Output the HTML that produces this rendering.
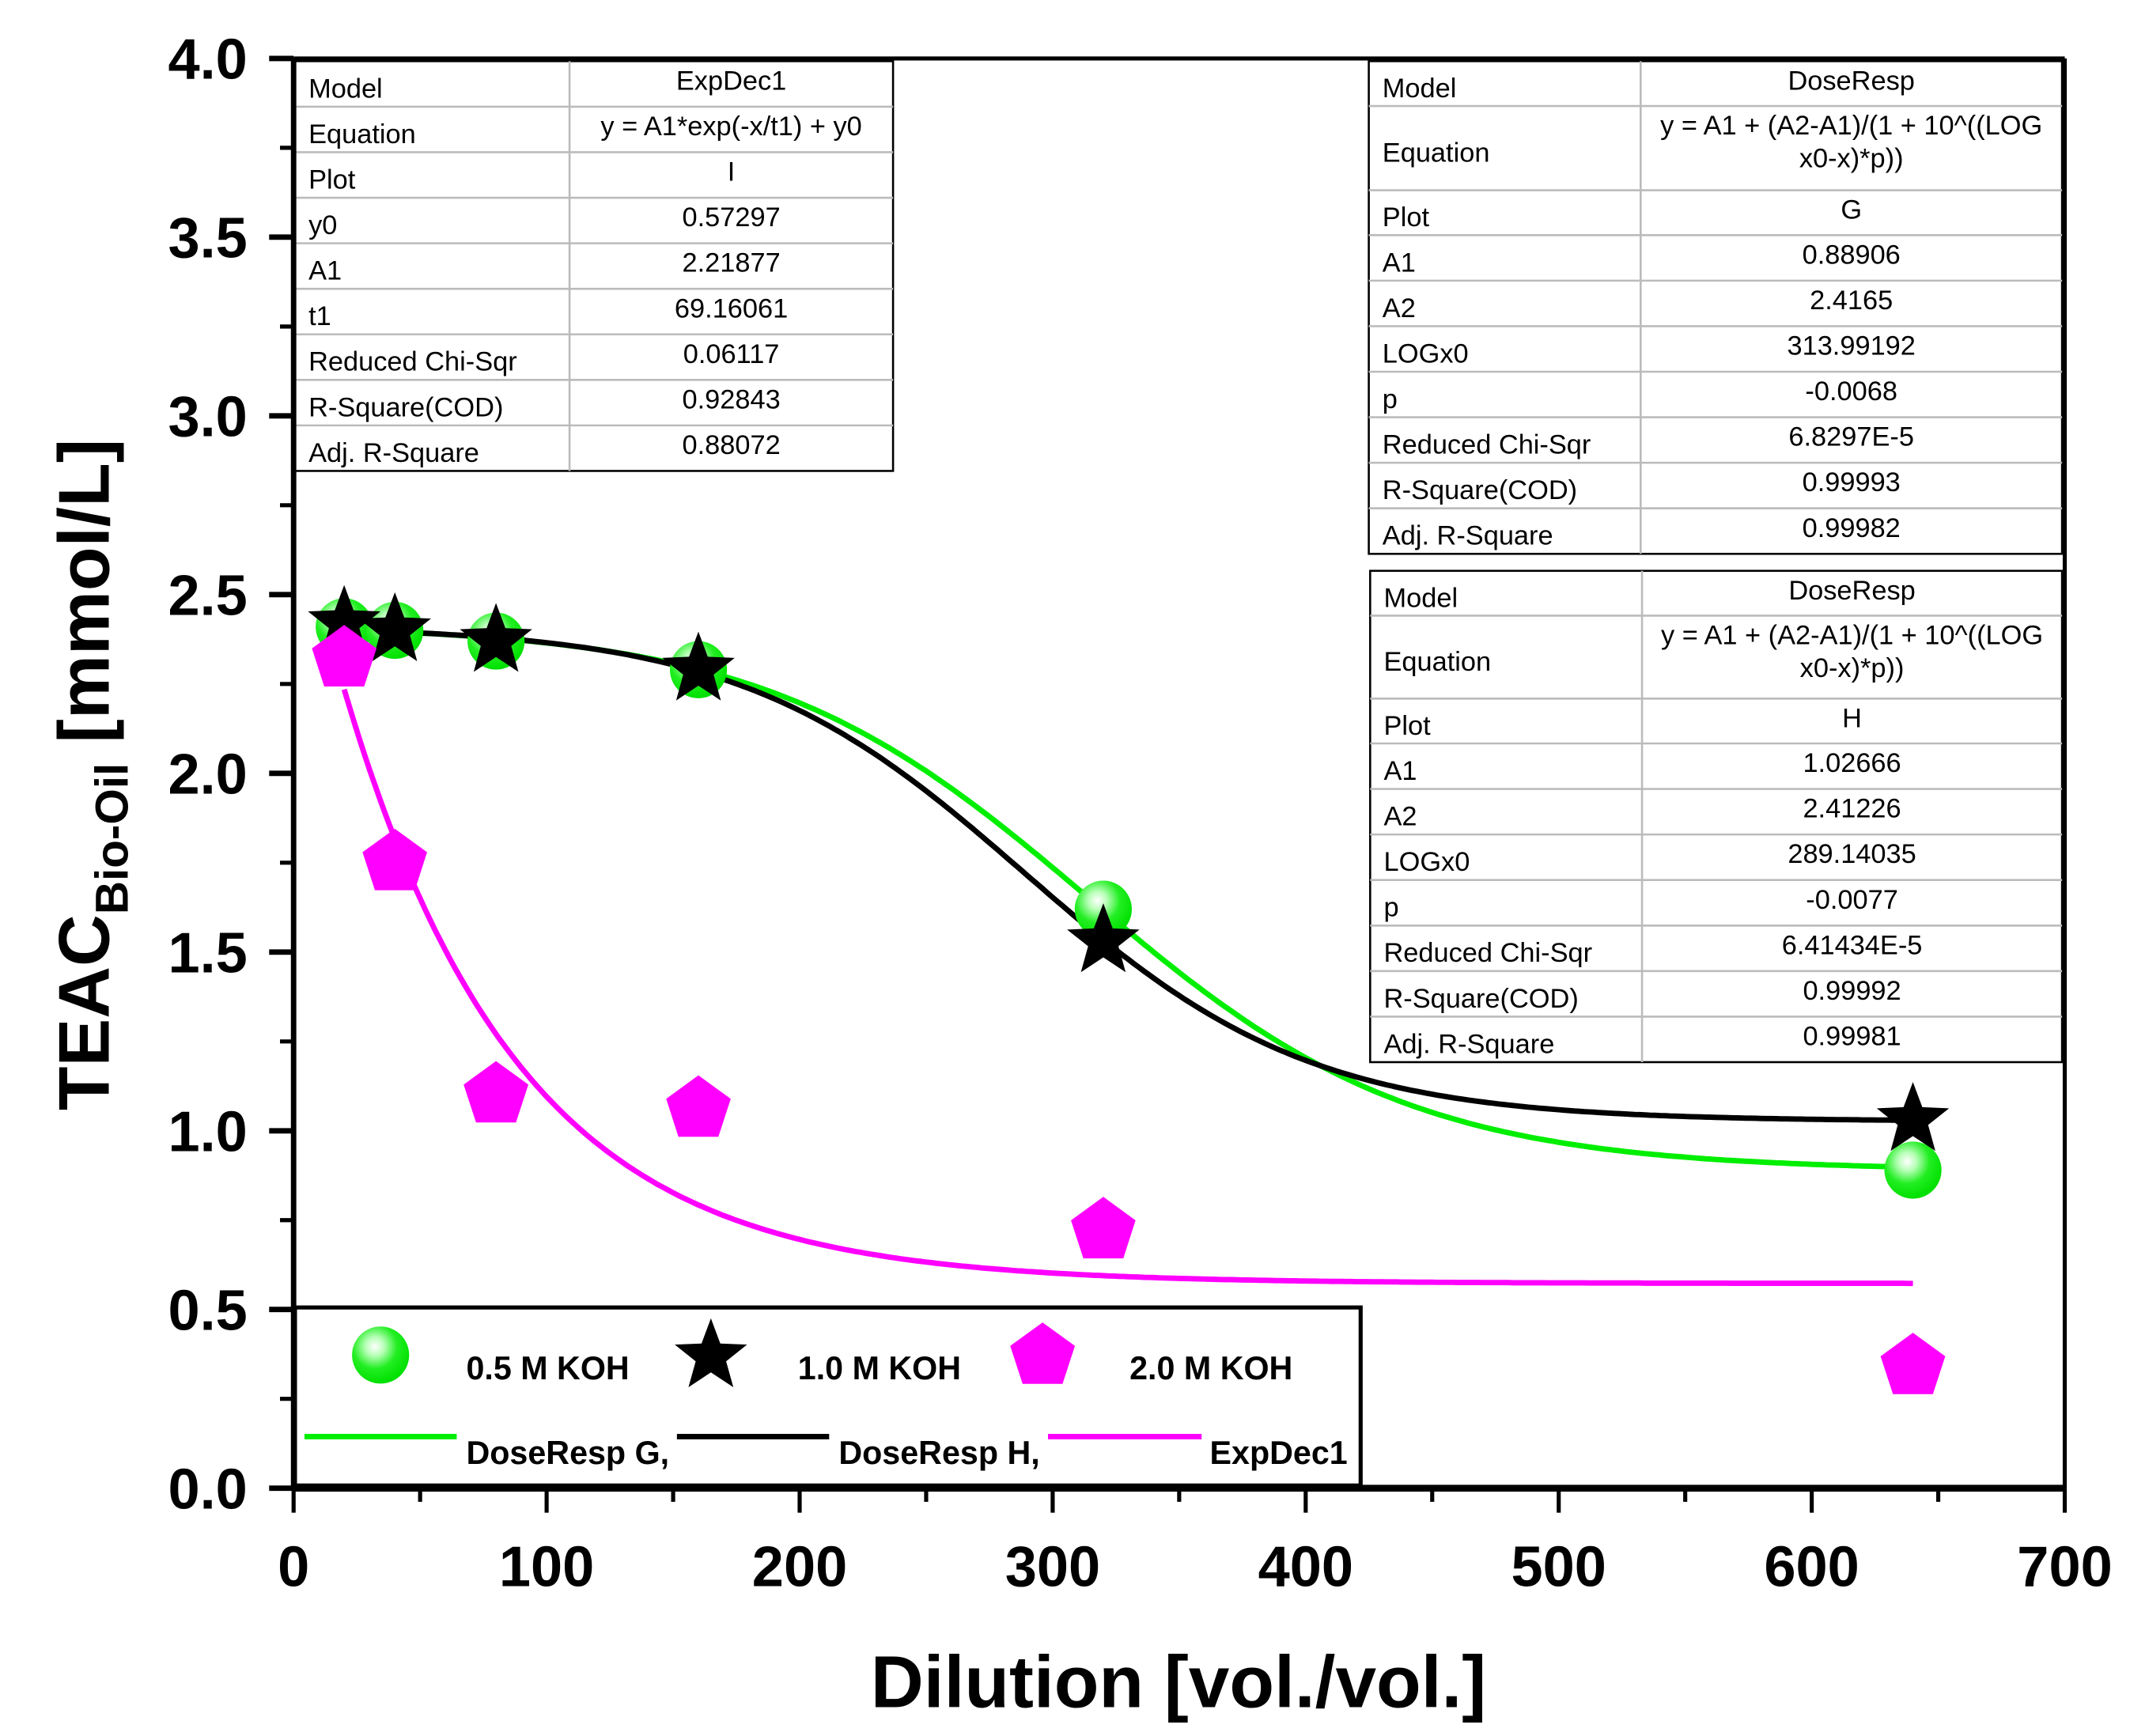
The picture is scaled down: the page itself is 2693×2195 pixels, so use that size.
<!DOCTYPE html>
<html><head><meta charset="utf-8"><style>
html,body{margin:0;padding:0;background:#fff}
svg{display:block}
text{font-family:"Liberation Sans",Arial,sans-serif}
.tk{font-weight:bold;font-size:42px}
.tt{font-size:20px}
</style></head><body>
<svg id="chart" width="2693" height="2195" viewBox="0 0 1567 1277.3" preserveAspectRatio="none" xmlns="http://www.w3.org/2000/svg">
<defs>
<radialGradient id="sph" cx="0.4" cy="0.35" r="0.65">
<stop offset="0" stop-color="#ffffff"/><stop offset="0.25" stop-color="#b8ffb8"/><stop offset="0.6" stop-color="#22ee22"/><stop offset="1" stop-color="#00e000"/>
</radialGradient>
</defs>
<g id="tables"></g>
<g id="curves"></g>
<g id="marks"></g>
<g id="axes"></g>
<g id="legend"></g>
<text x="867" y="1256" text-anchor="middle" font-weight="bold" font-size="54">Dilution [vol./vol.]</text>
<text transform="translate(80,570) rotate(-90)" text-anchor="middle" font-weight="bold" font-size="53">TEAC<tspan font-size="34" dy="14">Bio-Oil</tspan><tspan dy="-14"> [mmol/L]</tspan></text>
</svg>
<script>
const xVals=[20,40,80,160,320,640];
const yHalf=[2.41,2.40,2.37,2.29,1.62,0.89];
const yOne=[2.42,2.40,2.37,2.29,1.53,1.03];
const yTwo=[2.32,1.75,1.10,1.06,0.72,0.34];
const fitG=[0.88906,2.4165,313.99192,-0.0068];
const fitH=[1.02666,2.41226,289.14035,-0.0077];
const fitI=[0.57297,2.21877,69.16061];
const xTicks=[0,100,200,300,400,500,600,700];
const yTicks=[0.0,0.5,1.0,1.5,2.0,2.5,3.0,3.5,4.0];

const NS='http://www.w3.org/2000/svg';
const L=216,R=1519,T=43,B=1095;
const X=v=>L+(v-0)/(700-0)*(R-L);
const Y=v=>B-(v-0)/(4-0)*(B-T);
function mk(tag,attrs,parent){const e=document.createElementNS(NS,tag);for(const k in attrs)e.setAttribute(k,attrs[k]);parent.appendChild(e);return e;}
const curves=document.getElementById('curves'),marks=document.getElementById('marks'),axes=document.getElementById('axes'),legend=document.getElementById('legend'),tables=document.getElementById('tables');

function dose(p,x){return p[0]+(p[1]-p[0])/(1+Math.pow(10,(p[2]-x)*p[3]));}
function expd(p,x){return p[1]*Math.exp(-x/p[2])+p[0];}
function curve(f,color,name){let d='';for(let x=20;x<=640;x+=2){d+=(x==20?'M':'L')+X(x).toFixed(1)+','+Y(f(x)).toFixed(1);}
const p=mk('path',{d:d,fill:'none',stroke:color,'stroke-width':4},curves);

}
curve(x=>dose(fitG,x),'#00ee00','fit-curve-doseresp-g');
curve(x=>dose(fitH,x),'#000','fit-curve-doseresp-h');
curve(x=>expd(fitI,x),'#ff00ff','fit-curve-expdec1');

function starPts(cx,cy,r){let s=[];for(let i=0;i<10;i++){const a=-Math.PI/2+i*Math.PI/5;const rr=i%2?r*0.42:r;s.push((cx+rr*Math.cos(a)).toFixed(1)+','+(cy+rr*Math.sin(a)).toFixed(1));}return s.join(' ');}
function pentPts(cx,cy,r){let s=[];for(let i=0;i<5;i++){const a=-Math.PI/2+i*2*Math.PI/5;s.push((cx+r*Math.cos(a)).toFixed(1)+','+(cy+r*Math.sin(a)).toFixed(1));}return s.join(' ');}
function sphere(cx,cy,parent){return mk('circle',{cx:cx,cy:cy,r:21,fill:'url(#sph)'},parent);}

xVals.forEach((x,i)=>{
 const c=sphere(X(x),Y(yHalf[i]),marks);
 
 
});
xVals.forEach((x,i)=>{
 const s=mk('polygon',{points:starPts(X(x),Y(yOne[i]),28),fill:'#000'},marks);
 
 
});
xVals.forEach((x,i)=>{
 const s=mk('polygon',{points:pentPts(X(x),Y(yTwo[i]),25),fill:'#ff00ff'},marks);
 
 
});

mk('line',{x1:L,y1:B,x2:R,y2:B,stroke:'#000','stroke-width':5},axes);
mk('line',{x1:L,y1:T,x2:L,y2:B,stroke:'#000','stroke-width':4},axes);
mk('line',{x1:L,y1:T,x2:R,y2:T,stroke:'#000','stroke-width':3},axes);
mk('line',{x1:R,y1:T,x2:R,y2:B,stroke:'#000','stroke-width':3},axes);
xTicks.forEach((v,i)=>{
 mk('line',{x1:X(v),y1:B,x2:X(v),y2:B+18,stroke:'#000','stroke-width':3},axes);
 if(i<xTicks.length-1) mk('line',{x1:X(v+50),y1:B,x2:X(v+50),y2:B+10,stroke:'#000','stroke-width':3},axes);
 const t=mk('text',{x:X(v),y:1167,'text-anchor':'middle',class:'tk'},axes);t.textContent=v;
 
 
});
yTicks.forEach((v,i)=>{
 mk('line',{x1:L-18,y1:Y(v),x2:L,y2:Y(v),stroke:'#000','stroke-width':4},axes);
 if(i<yTicks.length-1) mk('line',{x1:L-10,y1:Y(v+0.25),x2:L,y2:Y(v+0.25),stroke:'#000','stroke-width':3},axes);
 const t=mk('text',{x:182,y:Y(v)+15,'text-anchor':'end',class:'tk'},axes);t.textContent=v.toFixed(1);
 
 
});

function table(x0,xm,x1,rows,heights,y0,name){
 const g=mk('g',{},tables);
 
 
 const total=heights.reduce((a,b)=>a+b,0);
 mk('rect',{x:x0,y:y0,width:x1-x0,height:total,fill:'#fff',stroke:'#000','stroke-width':1.5},g);
 mk('line',{x1:xm,y1:y0,x2:xm,y2:y0+total,stroke:'#bbb','stroke-width':1.5},g);
 let y=y0;
 rows.forEach((r,i)=>{
  const h=heights[i];
  if(i>0) mk('line',{x1:x0,y1:y,x2:x1,y2:y,stroke:'#bbb','stroke-width':1.5},g);
  const a=mk('text',{x:x0+10,y:y+h/2+10,class:'tt'},g);a.textContent=r[0];
  const vals=r[1].split('\n');
  vals.forEach((s,j)=>{const b=mk('text',{x:(xm+x1)/2,y:y+21+j*24,class:'tt','text-anchor':'middle'},g);b.textContent=s;});
  y+=h;
 });
}
table(217,419,657,[['Model','ExpDec1'],['Equation','y = A1*exp(-x/t1) + y0'],['Plot','I'],['y0','0.57297'],['A1','2.21877'],['t1','69.16061'],['Reduced Chi-Sqr','0.06117'],['R-Square(COD)','0.92843'],['Adj. R-Square','0.88072']],[33.5,33.5,33.5,33.5,33.5,33.5,33.5,33.5,33.5],45,'fit-table-expdec1');
const eq='y = A1 + (A2-A1)/(1 + 10^((LOG\nx0-x)*p))';
table(1007,1207,1517,[['Model','DoseResp'],['Equation',eq],['Plot','G'],['A1','0.88906'],['A2','2.4165'],['LOGx0','313.99192'],['p','-0.0068'],['Reduced Chi-Sqr','6.8297E-5'],['R-Square(COD)','0.99993'],['Adj. R-Square','0.99982']],[33,62,33,33.5,33.5,33.5,33.5,33.5,33.5,33.5],45,'fit-table-doseresp-g');
table(1008,1208,1517,[['Model','DoseResp'],['Equation',eq],['Plot','H'],['A1','1.02666'],['A2','2.41226'],['LOGx0','289.14035'],['p','-0.0077'],['Reduced Chi-Sqr','6.41434E-5'],['R-Square(COD)','0.99992'],['Adj. R-Square','0.99981']],[33,61,33,33.5,33.5,33.5,33.5,33.5,33.5,33.5],420,'fit-table-doseresp-h');

mk('rect',{x:217,y:962,width:784,height:131,fill:'#fff',stroke:'#000','stroke-width':3},legend);
const s1=sphere(280,997,legend);


mk('polygon',{points:starPts(523,998,28),fill:'#000'},legend);
mk('polygon',{points:pentPts(767,998,25),fill:'#ff00ff'},legend);
[['0.5 M KOH',343,1015],['1.0 M KOH',587,1015],['2.0 M KOH',831,1015],['DoseResp G,',343,1077],['DoseResp H,',617,1077],['ExpDec1',890,1077]].forEach(e=>{
 const t=mk('text',{x:e[1],y:e[2],'font-weight':'bold','font-size':24},legend);t.textContent=e[0];
 
 
});
mk('line',{x1:224,y1:1057,x2:336,y2:1057,stroke:'#00ee00','stroke-width':4},legend);
mk('line',{x1:498,y1:1057,x2:610,y2:1057,stroke:'#000','stroke-width':4},legend);
mk('line',{x1:771,y1:1057,x2:884,y2:1057,stroke:'#ff00ff','stroke-width':4},legend);
</script>
</body></html>
